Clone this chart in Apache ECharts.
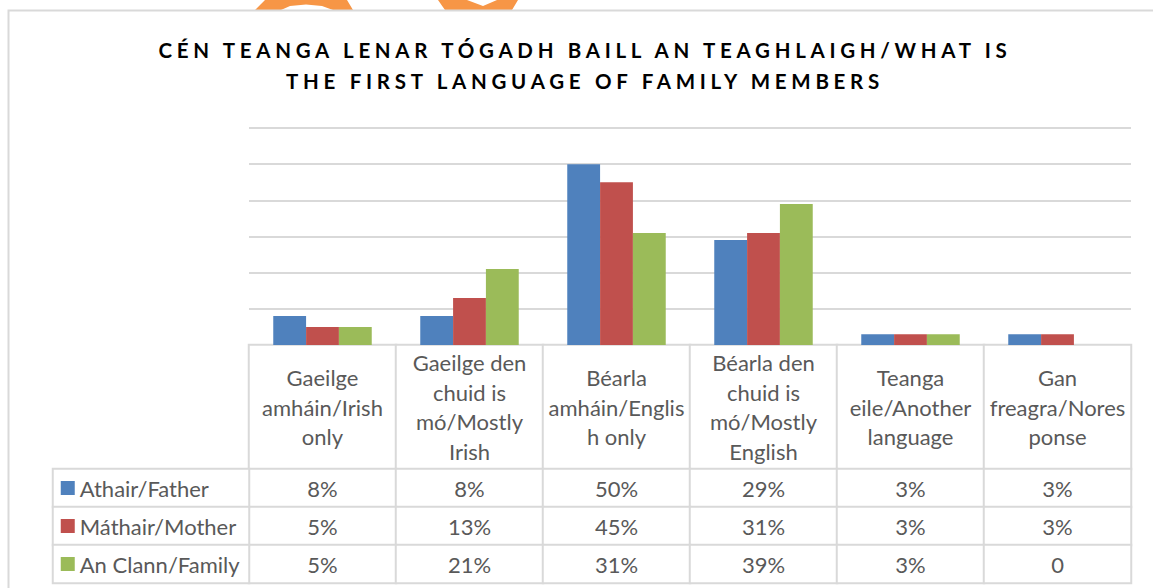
<!DOCTYPE html>
<html>
<head>
<meta charset="utf-8">
<script src="https://cdn.jsdelivr.net/npm/echarts@6/dist/echarts.min.js"></script>
<style>
  html, body { margin: 0; padding: 0; background: #fff; }
  #chart { width: 1153px; height: 588px; }
</style>
</head>
<body>
<div id="chart"></div>
<script>
// data
const titleText = 'CÉN TEANGA LENAR TÓGADH BAILL AN TEAGHLAIGH/WHAT IS\nTHE FIRST LANGUAGE OF FAMILY MEMBERS';
const categories = [
  'Gaeilge\namháin/Irish\nonly',
  'Gaeilge den\nchuid is\nmó/Mostly\nIrish',
  'Béarla\namháin/Englis\nh only',
  'Béarla den\nchuid is\nmó/Mostly\nEnglish',
  'Teanga\neile/Another\nlanguage',
  'Gan\nfreagra/Nores\nponse'
];
const seriesNames = ['Athair/Father', 'Máthair/Mother', 'An Clann/Family'];
const fatherValues = [8, 8, 50, 29, 3, 3];
const motherValues = [5, 13, 45, 31, 3, 3];
const familyValues = [5, 21, 31, 39, 3, 0];
const valueMax = 60;
const valueStep = 10;

const allValues = [fatherValues, motherValues, familyValues];
const colors = ['#4f81bd', '#c0504d', '#9bbb59'];
const textColor = '#595959';
const lineColor = '#d9d9d9';
const font = 'Lato, "Open Sans", sans-serif';

const fmt = v => (v === 0 ? '0' : v + '%');

const cellStyle = { color: '#fff', borderColor: lineColor, borderWidth: 2 };
const cellLabel = { show: true, color: textColor, fontSize: 22, fontFamily: font };

const chart = echarts.init(document.getElementById('chart'), null, { renderer: 'svg' });

const barSeries = seriesNames.map((name, s) => ({
  name,
  type: 'bar',
  xAxisIndex: 0,
  yAxisIndex: 0,
  barGap: 0,
  barCategoryGap: '33%',
  itemStyle: { color: colors[s] },
  data: allValues[s]
}));

const headerCells = {
  type: 'heatmap',
  xAxisIndex: 1,
  yAxisIndex: 1,
  itemStyle: cellStyle,
  label: { ...cellLabel, lineHeight: 29.5, formatter: p => categories[p.data[0]] },
  data: categories.map((c, i) => [i, 0, 0])
};

const valueCells = {
  type: 'heatmap',
  xAxisIndex: 2,
  yAxisIndex: 2,
  itemStyle: cellStyle,
  label: { ...cellLabel, formatter: p => fmt(p.data[2]) },
  data: allValues.flatMap((vals, s) => vals.map((v, i) => [i, s, v]))
};

const rich = { t: { color: textColor, fontSize: 22, fontFamily: font, padding: [0, 0, 0, 5] } };
colors.forEach((c, s) => { rich['k' + s] = { width: 14, height: 14, backgroundColor: c }; });

const legendCells = {
  type: 'heatmap',
  xAxisIndex: 3,
  yAxisIndex: 3,
  itemStyle: cellStyle,
  label: {
    ...cellLabel,
    position: 'insideLeft',
    distance: 9,
    formatter: p => '{k' + p.data[1] + '|}{t|' + seriesNames[p.data[1]] + '}',
    rich
  },
  data: seriesNames.map((n, s) => [0, s, s])
};

const hiddenCat = (gridIndex, data, inverse) => ({
  type: 'category', gridIndex, data, inverse: !!inverse, show: false
});

chart.setOption({
  animation: false,
  backgroundColor: '#fff',
  title: {
    text: titleText,
    left: 585,
    textAlign: 'center',
    top: 34,
    padding: 0,
    textStyle: { color: '#000', fontSize: 20.5, fontWeight: 'bold', fontFamily: font, lineHeight: 31 }
  },
  graphic: [
    { type: 'polygon', shape: { points: [[265, 0], [255, 10], [281, 10], [290, 6], [306, 4.5], [322, 6], [333, 10], [353, 10], [347, 0]] }, style: { fill: '#f79646' } },
    { type: 'polygon', shape: { points: [[438, 0], [467, 0], [483, 6], [497, 0], [518, 0], [512, 10], [445, 10]] }, style: { fill: '#f79646' } },
    { type: 'polyline', shape: { points: [[8.5, 588], [8.5, 10.5], [1153, 10.5]] }, style: { stroke: lineColor, lineWidth: 2, fill: null } }
  ],
  grid: [
    { left: 249, top: 128, width: 882, height: 217 },
    { left: 249, top: 345, width: 882, height: 124 },
    { left: 249, top: 469, width: 882, height: 114 },
    { left: 53, top: 469, width: 196, height: 114 }
  ],
  xAxis: [
    hiddenCat(0, categories),
    hiddenCat(1, categories),
    hiddenCat(2, categories),
    hiddenCat(3, ['legend'])
  ],
  yAxis: [
    {
      type: 'value', gridIndex: 0, min: 0, max: valueMax, interval: valueStep,
      axisLabel: { show: false }, axisLine: { show: false }, axisTick: { show: false },
      splitLine: { lineStyle: { color: lineColor, width: 2 } }
    },
    hiddenCat(1, ['header']),
    hiddenCat(2, seriesNames, true),
    hiddenCat(3, seriesNames, true)
  ],
  series: [...barSeries, headerCells, valueCells, legendCells]
});

// Excel-style letter spacing on the bold title lines
function spaceTitle() {
  document.querySelectorAll('#chart text').forEach(el => {
    if (Number(getComputedStyle(el).fontWeight) >= 600) el.setAttribute('letter-spacing', '4.7');
  });
}
chart.on('finished', spaceTitle);
setTimeout(spaceTitle, 50);
</script>
</body>
</html>
